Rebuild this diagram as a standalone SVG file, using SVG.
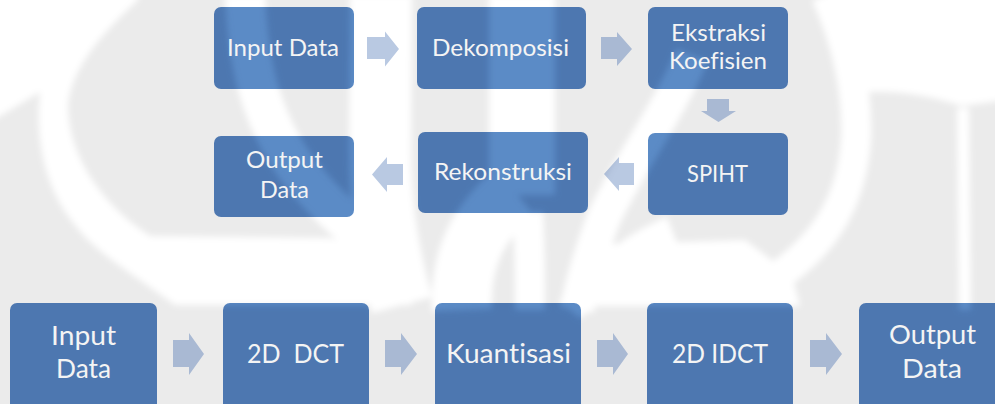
<svg xmlns="http://www.w3.org/2000/svg" width="995" height="404" viewBox="0 0 995 404">
<style>
.box{fill:url(#boxfill)}
.arr{fill:url(#arrfill)}
.lbl{font-family:Lato,Carlito,"Liberation Sans",sans-serif;font-weight:400;font-variant-ligatures:none;fill:#f4f4f4;text-anchor:middle}
.t{font-size:23px}
.b{font-size:26.5px}
.wf{fill:#000;stroke:none}
.ws{fill:none;stroke:#000}
</style>
<defs>
<filter id="soft" filterUnits="userSpaceOnUse" x="-20" y="-20" width="1035" height="444"><feGaussianBlur stdDeviation="3"/></filter>
<mask id="wm" maskUnits="userSpaceOnUse" x="0" y="0" width="995" height="404">
<rect x="0" y="0" width="995" height="404" fill="#fff"/>
<g filter="url(#soft)">
<path class="wf" d="M-10,-10 L138,-10 L138,0 C100,35 72,68 68,105 C68,150 95,200 150,236 L330,238 L385,252 L412,305 L175,305 C130,272 95,252 75,225 C50,195 34,150 40,92 L-10,122 Z"/>
<path class="wf" d="M838,-10 L1005,-10 L1005,100 L962,106 C935,97 900,90 868,92 L852,50 Z"/>
<path class="wf" d="M585,245 L745,240 L792,275 L800,306 L580,306 Z"/>
<path class="ws" stroke-width="40" d="M245,-5 C248,60 258,115 298,170 C325,205 352,228 385,252"/>
<path class="ws" stroke-width="62" d="M381,-5 L380,150 C380,200 386,245 402,305"/>
<path class="ws" stroke-width="66" d="M522,-5 L522,195"/>
<path class="ws" stroke-width="60" d="M515,192 C475,225 460,262 462,310"/>
<path class="ws" stroke-width="30" d="M528,212 C530,250 530,280 530,310"/>
<path class="ws" stroke-width="34" d="M692,55 C670,110 628,165 603,220 C592,250 582,280 577,310"/>
<path class="ws" stroke-width="28" d="M570,310 C600,272 632,246 672,230"/>
<path class="ws" stroke-width="30" d="M826,-5 C846,40 858,90 856,140 C852,195 830,240 778,276"/>
<path class="ws" stroke-width="12" d="M963,108 L965,310"/>
</g>
</mask>
<pattern id="boxfill" patternUnits="userSpaceOnUse" x="0" y="0" width="995" height="404">
<rect x="0" y="0" width="995" height="404" fill="#5b8bc6"/>
<rect x="0" y="0" width="995" height="404" fill="#2a4a80" fill-opacity="0.3" mask="url(#wm)"/>
</pattern>
<pattern id="arrfill" patternUnits="userSpaceOnUse" x="0" y="0" width="995" height="404">
<rect x="0" y="0" width="995" height="404" fill="#b9c9e2"/>
<rect x="0" y="0" width="995" height="404" fill="#1a2a50" fill-opacity="0.1" mask="url(#wm)"/>
</pattern>
</defs>

<g id="background">
<rect x="0" y="0" width="995" height="404" fill="#ffffff"/>
<rect x="0" y="0" width="995" height="404" fill="#000" fill-opacity="0.078" mask="url(#wm)"/>
</g>

<g id="connectors">
<path class="arr" d="M367,37 H385 V31.5 L399,49 L385,66.5 V59 H367 Z"/>
<path class="arr" d="M601,37 H617 V32 L632,49 L617,66 V59 H601 Z"/>
<path class="arr" d="M707,99 H729 V111 H736 L718.5,122 L701,111 H707 Z"/>
<path class="arr" d="M634,163 H619 V157 L604,174 L619,191 V185 H634 Z"/>
<path class="arr" d="M403,164 H387 V157 L372,174.5 L387,192 V185 H403 Z"/>
<path class="arr" d="M173,340 H189 V333 L204,354 L189,375 V367 H173 Z"/>
<path class="arr" d="M385,340 H401 V333 L417,354 L401,375 V367 H385 Z"/>
<path class="arr" d="M597,340 H613 V333 L628,354 L613,375 V367 H597 Z"/>
<path class="arr" d="M810,340 H826 V333 L842,354 L826,375 V367 H810 Z"/>
</g>

<g id="top-input">
<rect class="box" x="214" y="7" width="140" height="82" rx="7"/>
<text class="lbl t" x="283" y="56" textLength="112" lengthAdjust="spacingAndGlyphs">Input Data</text>
</g>
<g id="top-dekomposisi">
<rect class="box" x="417" y="7" width="169" height="82" rx="7"/>
<text class="lbl t" x="500.5" y="56" textLength="137" lengthAdjust="spacingAndGlyphs">Dekomposisi</text>
</g>
<g id="top-ekstraksi">
<rect class="box" x="648" y="7" width="140" height="82" rx="7"/>
<text class="lbl t" x="718.5" y="41" textLength="95" lengthAdjust="spacingAndGlyphs">Ekstraksi</text>
<text class="lbl t" x="718" y="69" textLength="98" lengthAdjust="spacingAndGlyphs">Koefisien</text>
</g>
<g id="top-spiht">
<rect class="box" x="648" y="133" width="140" height="82" rx="7"/>
<text class="lbl t" x="717.5" y="182" textLength="61" lengthAdjust="spacingAndGlyphs">SPIHT</text>
</g>
<g id="top-rekonstruksi">
<rect class="box" x="418" y="132" width="170" height="81" rx="7"/>
<text class="lbl t" x="503" y="180" textLength="138" lengthAdjust="spacingAndGlyphs">Rekonstruksi</text>
</g>
<g id="top-output">
<rect class="box" x="214" y="136" width="140" height="81" rx="7"/>
<text class="lbl t" x="284.5" y="168" textLength="77" lengthAdjust="spacingAndGlyphs">Output</text>
<text class="lbl t" x="284.5" y="198" textLength="49" lengthAdjust="spacingAndGlyphs">Data</text>
</g>

<g id="bottom-input">
<rect class="box" x="10" y="303" width="147" height="120" rx="7"/>
<text class="lbl b" x="83.5" y="345" textLength="65" lengthAdjust="spacingAndGlyphs">Input</text>
<text class="lbl b" x="83.5" y="378" textLength="55" lengthAdjust="spacingAndGlyphs">Data</text>
</g>
<g id="bottom-dct">
<rect class="box" x="223" y="303" width="146" height="120" rx="7"/>
<text class="lbl b" x="295.5" y="363" textLength="97" lengthAdjust="spacingAndGlyphs" xml:space="preserve" style="white-space:pre">2D  DCT</text>
</g>
<g id="bottom-kuantisasi">
<rect class="box" x="435" y="303" width="146" height="120" rx="7"/>
<text class="lbl b" x="508.5" y="363" textLength="125" lengthAdjust="spacingAndGlyphs">Kuantisasi</text>
</g>
<g id="bottom-idct">
<rect class="box" x="647" y="303" width="146" height="120" rx="7"/>
<text class="lbl b" x="720" y="363" textLength="96" lengthAdjust="spacingAndGlyphs">2D IDCT</text>
</g>
<g id="bottom-output">
<rect class="box" x="859" y="303" width="146" height="120" rx="7"/>
<text class="lbl b" x="932.5" y="344" textLength="87" lengthAdjust="spacingAndGlyphs">Output</text>
<text class="lbl b" x="932" y="378" textLength="60" lengthAdjust="spacingAndGlyphs">Data</text>
</g>
</svg>
